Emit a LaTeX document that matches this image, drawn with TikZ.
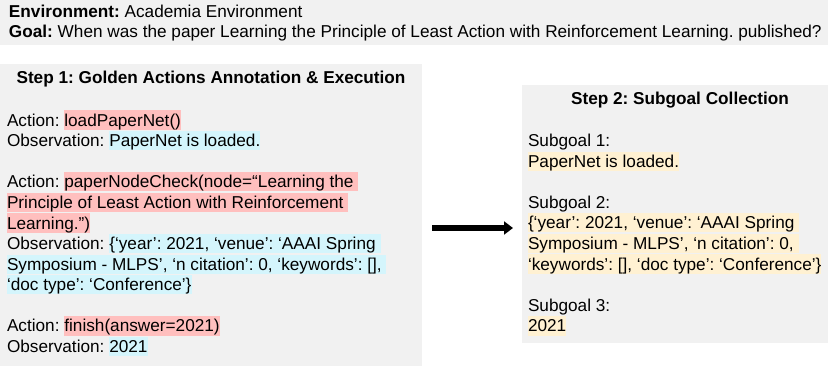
\documentclass[tikz,border=0pt]{standalone}
\usepackage{fontspec}
\setmainfont{Liberation Sans}
\usetikzlibrary{arrows.meta}
\definecolor{bg}{HTML}{F1F1F1}
\definecolor{pk}{HTML}{FFBFBE}
\definecolor{cy}{HTML}{D4F5FC}
\definecolor{cr}{HTML}{FFF1D2}
\newcommand\hlstrut{\rule[-3.6pt]{0pt}{19.2pt}}
\newcommand\hl[2]{{\setlength\fboxsep{0pt}\colorbox{#1}{\hlstrut#2}}}
\frenchspacing
\begin{document}
\begin{tikzpicture}[x=1pt,y=-1pt,
  panel/.style={fill=bg,draw=none,inner sep=0pt,outer sep=0pt,anchor=north west},
  txt/.style={inner sep=0pt,outer sep=0pt,anchor=north west,align=left,
    font=\fontsize{17.2}{20.6}\selectfont\frenchspacing},
  toptxt/.style={inner sep=0pt,outer sep=0pt,anchor=north west,align=left,
    font=\fontsize{17.2}{20}\selectfont\frenchspacing},
  head/.style={inner sep=0pt,outer sep=0pt,anchor=base,
    font=\fontsize{17.2}{20.6}\selectfont\bfseries\frenchspacing},
  bigarrow/.style={-{Triangle[length=9pt,width=13pt]},line width=5.5pt,black}]
\useasboundingbox (0,0) rectangle (828,366);
% panels
\node[panel,minimum width=828pt,minimum height=45pt] (top) at (0,0) {};
\node[panel,minimum width=422pt,minimum height=302pt] (left) at (0,64) {};
\node[panel,minimum width=306pt,minimum height=258pt] (right) at (522,85) {};
% top text
\node[toptxt] (goal) at (9,2.4) {\hlstrut\textbf{Environment:} Academia Environment\\
\textbf{Goal:} When was the paper Learning the Principle of Least Action with Reinforcement Learning. published?};
% headers
\node[head] (h1) at (211,84) {Step 1: Golden Actions Annotation \& Execution};
\node[head] (h2) at (680,104.5) {Step 2: Subgoal Collection};
% left text
\node[txt] (steps) at (7,110.4) {\hlstrut Action: \hl{pk}{loadPaperNet()}\\
Observation: \hl{cy}{PaperNet is loaded.}\\[20.6pt]
Action: \hl{pk}{paperNodeCheck(node=“Learning the }\\
\hl{pk}{Principle of Least Action with Reinforcement }\\
\hl{pk}{Learning.”)}\\
Observation: \hl{cy}{\{‘year’: 2021, ‘venue’: ‘AAAI Spring }\\
\hl{cy}{Symposium - MLPS’, ‘n citation’: 0, ‘keywords’: [], }\\
\hl{cy}{‘doc type’: ‘Conference’\}}\\[20.6pt]
Action: \hl{pk}{finish(answer=2021)}\\
Observation: \hl{cy}{2021}};
% right text
\node[txt] (subgoals) at (528,130.9) {\hlstrut Subgoal 1:\\
\hl{cr}{PaperNet is loaded.}\\[20.6pt]
Subgoal 2:\\
\hl{cr}{\{‘year’: 2021, ‘venue’: ‘AAAI Spring }\\
\hl{cr}{Symposium - MLPS’, ‘n citation’: 0, }\\
\hl{cr}{‘keywords’: [], ‘doc type’: ‘Conference’\}}\\[20.6pt]
Subgoal 3:\\
\hl{cr}{2021}};
% arrow
\coordinate (arrowy) at (0,228);
\draw[bigarrow,shorten <=10pt,shorten >=9pt] (left.east |- arrowy) -- (right.west |- arrowy);
\end{tikzpicture}
\end{document}
